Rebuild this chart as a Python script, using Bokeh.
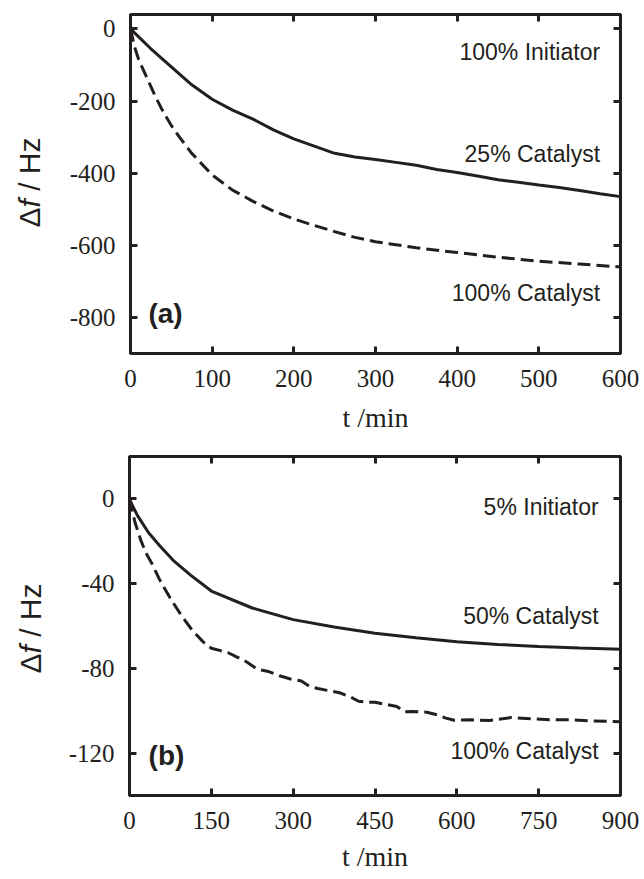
import math
from bokeh.plotting import figure
from bokeh.layouts import column, row
from bokeh.models import Range1d, LinearAxis, FixedTicker, Label, CustomJSTickFormatter
from bokeh.embed import file_html
from bokeh.resources import INLINE

# ---------------- data ----------------
# panel (a): 100% Initiator
a_t_25 = [0, 10, 25, 50, 75, 100, 125, 150, 175, 200, 225, 250, 275, 300, 325, 350,
          375, 400, 425, 450, 475, 500, 525, 550, 575, 600]
a_f_25 = [0, -22, -55, -105, -155, -195, -225, -250, -280, -305, -325, -345, -355, -362,
          -370, -378, -390, -398, -408, -418, -425, -433, -440, -448, -457, -465]
a_t_100 = [0, 5, 10, 20, 30, 40, 50, 60, 75, 100, 125, 150, 175, 200, 225, 250, 275, 300,
           350, 400, 450, 500, 550, 600]
a_f_100 = [0, -50, -85, -135, -185, -230, -268, -300, -345, -405, -447, -478, -505, -527,
           -545, -562, -578, -590, -607, -620, -633, -644, -652, -660]

# panel (b): 5% Initiator
b_t_50 = [0, 5, 15, 35, 55, 80, 112, 150, 225, 300, 375, 450, 525, 600, 675, 750, 825, 900]
b_f_50 = [0, -3, -8, -16, -22, -29, -36, -43.5, -51.5, -57, -60.5, -63.4, -65.6, -67.4,
          -68.7, -69.7, -70.4, -71]
b_t_100 = [0, 10, 20, 30, 40, 55, 75, 95, 115, 135, 150, 165, 180, 200, 215, 235, 255, 275,
           295, 315, 330, 345, 365, 385, 405, 420, 435, 450, 470, 490, 505, 520, 545, 565,
           580, 595, 625, 660, 700, 735, 770, 810, 850, 900]
b_f_100 = [0, -11, -19, -25.5, -30, -38, -47, -55, -62, -67.5, -70.5, -71.5, -72.5, -75, -77,
           -80.5, -81.5, -83.5, -85, -86, -88.5, -89.5, -90.5, -91.5, -93.5, -95.5, -96, -96,
           -97, -98, -100.5, -100.3, -100.7, -102, -103.5, -104.5, -104.3, -104.6, -103.2,
           -103.8, -104.2, -104.3, -104.8, -105.2]

a_xticks = [0, 100, 200, 300, 400, 500, 600]
a_yticks = [-800, -600, -400, -200, 0]
b_xticks = [0, 150, 300, 450, 600, 750, 900]
b_yticks = [-120, -80, -40, 0]

a_texts = ["100% Initiator", "25% Catalyst", "100% Catalyst"]
b_texts = ["5% Initiator", "50% Catalyst", "100% Catalyst"]
a_tag = "(a)"
b_tag = "(b)"
x_title = "t /min"
y_title_parts = ["Δ", "f", "/", "Hz"]

INK = "#231f20"
SERIF = "Liberation Serif"
SANS = "Liberation Sans"
PLAIN = CustomJSTickFormatter(code="return tick.toString()")
LAB_W = 60


def make_panel(xr, yr, xticks, yticks, height, left_border, top_border, bottom_border,
               title_standoff):
    p = figure(width=644 - LAB_W, height=height, x_range=Range1d(*xr), y_range=Range1d(*yr),
               output_backend="svg", toolbar_location=None,
               min_border_left=left_border - LAB_W, min_border_right=24,
               min_border_top=top_border, min_border_bottom=bottom_border)
    p.grid.visible = False
    p.outline_line_color = INK
    p.outline_line_width = 3
    p.background_fill_color = "white"
    p.border_fill_color = "white"
    for ax in (p.xaxis[0], p.yaxis[0]):
        ax.major_tick_in = 7
        ax.major_tick_out = 0
        ax.minor_tick_in = 0
        ax.minor_tick_out = 0
        ax.major_tick_line_width = 3
        ax.major_tick_line_color = INK
        ax.axis_line_width = 3
        ax.axis_line_color = INK
        ax.major_label_text_font = SERIF
        ax.major_label_text_font_size = "25px"
        ax.major_label_text_color = INK
        ax.formatter = PLAIN
    p.xaxis[0].ticker = FixedTicker(ticks=xticks)
    p.yaxis[0].ticker = FixedTicker(ticks=yticks)
    p.xaxis[0].major_label_standoff = 16
    p.yaxis[0].major_label_standoff = 15
    p.xaxis[0].axis_label = x_title
    p.xaxis[0].axis_label_text_font = SERIF
    p.xaxis[0].axis_label_text_font_size = "28px"
    p.xaxis[0].axis_label_text_font_style = "normal"
    p.xaxis[0].axis_label_text_color = INK
    p.xaxis[0].axis_label_standoff = title_standoff
    # mirrored axes (ticks only)
    for loc, ticks in (("above", xticks), ("right", yticks)):
        ax = LinearAxis(ticker=FixedTicker(ticks=ticks),
                        formatter=CustomJSTickFormatter(code="return ''"),
                        major_tick_in=7, major_tick_out=0, minor_tick_in=0, minor_tick_out=0,
                        major_tick_line_width=3, major_tick_line_color=INK,
                        axis_line_width=3, axis_line_color=INK,
                        major_label_text_font_size="1px", major_label_standoff=0)
        p.add_layout(ax, loc)
    return p


def label_strip(height, cx, start_from_frame_bottom):
    """Narrow figure holding the rotated y-axis title  Δf / Hz  (f in italics).
    Its frame is aligned by the row layout with the neighbouring plot's frame."""
    q = figure(width=LAB_W, height=height, x_range=Range1d(0, 1), y_range=Range1d(0, 1),
               x_axis_type=None, y_axis_type=None, output_backend="svg",
               toolbar_location=None, min_border=0)
    q.grid.visible = False
    q.outline_line_color = None
    q.background_fill_color = "white"
    q.border_fill_color = "white"
    fs = 30
    offsets = [0.0, 0.667, 0.667 + 0.278 + 0.278, 0.667 + 0.278 + 0.278 * 3]
    styles = ["normal", "italic", "normal", "normal"]
    for txt, off, style in zip(y_title_parts, offsets, styles):
        q.add_layout(Label(x=cx, y=start_from_frame_bottom + off * fs, x_units="screen",
                           y_units="screen", text=txt, angle=math.pi / 2,
                           text_align="left", text_baseline="middle", text_font=SANS,
                           text_font_size=f"{fs}px", text_font_style=style,
                           text_color=INK))
    return q


def add_texts(p, texts, tx, tys, tag, tagx, tagy):
    for txt, ty in zip(texts, tys):
        p.add_layout(Label(x=tx, y=ty, text=txt, text_align="right", text_baseline="middle",
                           text_font=SANS, text_font_size="23px", text_color=INK))
    p.add_layout(Label(x=tagx, y=tagy, text=tag, text_align="left", text_baseline="middle",
                       text_font=SANS, text_font_size="28px", text_font_style="bold",
                       text_color=INK))


# ---- panel (a)
p1 = make_panel((0, 600), (-900, 40), a_xticks, a_yticks, 448, 130, 14, 95, 12)
p1.line(a_t_25, a_f_25, line_color=INK, line_width=3)
p1.line(a_t_100, a_f_100, line_color=INK, line_width=3, line_dash="13 6")
add_texts(p1, a_texts, 575, [-65, -348, -733], a_tag, 22, -789)
q1 = label_strip(448, 29, 353 - 227)

# ---- panel (b)
p2 = make_panel((0, 900), (-140, 20), b_xticks, b_yticks, 431, 129, 8, 84, 9)
p2.line(b_t_50, b_f_50, line_color=INK, line_width=3)
p2.line(b_t_100, b_f_100, line_color=INK, line_width=3, line_dash="13 6")
add_texts(p2, b_texts, 860, [-4, -55.4, -118.8], b_tag, 35, -121.2)
q2 = label_strip(431, 30, 795 - 673)

layout = column(row(q1, p1, spacing=0), row(q2, p2, spacing=0), spacing=0)
open("out.html", "w").write(file_html(layout, INLINE))
